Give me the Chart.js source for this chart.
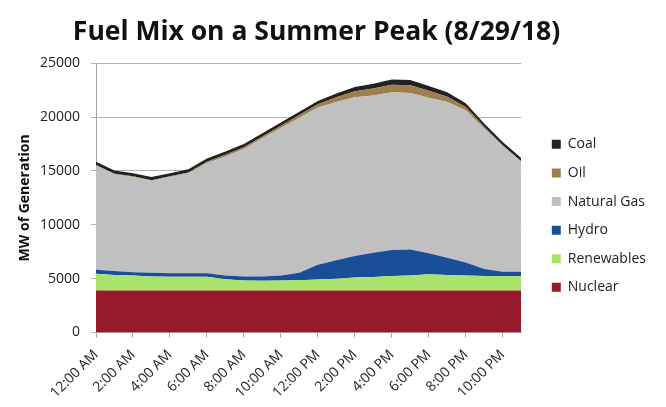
<!DOCTYPE html>
<html>
<head>
<meta charset="utf-8">
<script src="https://cdn.jsdelivr.net/npm/chart.js@4/dist/chart.umd.min.js"></script>
<style>
  html, body { margin: 0; padding: 0; background: #fff; }
  #wrap { width: 666px; height: 407px; position: relative; }
</style>
</head>
<body>
<div id="wrap"><canvas id="c" width="666" height="407"></canvas></div>
<script>
const hours = ["12:00 AM","1:00 AM","2:00 AM","3:00 AM","4:00 AM","5:00 AM","6:00 AM","7:00 AM","8:00 AM","9:00 AM","10:00 AM","11:00 AM",
               "12:00 PM","1:00 PM","2:00 PM","3:00 PM","4:00 PM","5:00 PM","6:00 PM","7:00 PM","8:00 PM","9:00 PM","10:00 PM","11:00 PM"];
const nuclear    = [3900,3900,3900,3900,3900,3900,3900,3900,3900,3900,3900,3900,3900,3900,3900,3900,3900,3900,3900,3900,3900,3900,3900,3900];
const renewables = [1550,1450,1400,1300,1270,1270,1270,1050,930,900,930,950,1020,1100,1200,1250,1350,1400,1500,1450,1400,1350,1350,1350];
const hydro      = [370,350,300,340,330,330,330,350,370,400,470,700,1380,1700,2000,2250,2400,2400,1950,1600,1200,650,400,400];
const naturalGas = [9680,9000,8850,8560,8950,9300,10250,11050,11850,12850,13700,14400,14600,14700,14750,14600,14650,14550,14450,14450,14150,13050,11650,10200];
const oil        = [50,50,50,50,50,50,100,150,150,150,200,250,300,450,550,650,700,700,650,500,300,150,100,50];
const coal       = [300,300,300,300,300,300,300,300,300,300,300,300,300,350,400,450,500,500,450,400,350,300,300,300];
const yTicks = [0,5000,10000,15000,20000,25000];

const FONT = "'Open Sans', 'Noto Sans', sans-serif";
function ds(label, data, color, fill) {
  return { label, data, backgroundColor: color, borderColor: color, borderWidth: 0,
           pointRadius: 0, pointHoverRadius: 0, fill, tension: 0 };
}

// nudge the title and legend boxes horizontally after layout
const nudge = {
  id: 'nudge',
  afterLayout(chart) {
    const lg = chart.legend;
    if (lg) { lg.left += 16; lg.right += 16; }
    const tb = chart.titleBlock;
    if (tb) { tb.left -= 12; tb.right -= 12; }
  }
};

new Chart(document.getElementById('c'), {
  type: 'line',
  plugins: [nudge],
  data: {
    labels: hours,
    datasets: [
      ds('Nuclear', nuclear, '#971a2b', 'origin'),
      ds('Renewables', renewables, '#a8e46b', '-1'),
      ds('Hydro', hydro, '#1b4e98', '-1'),
      ds('Natural Gas', naturalGas, '#c0c0c0', '-1'),
      ds('Oil', oil, '#9e7e4f', '-1'),
      ds('Coal', coal, '#222222', '-1')
    ]
  },
  options: {
    responsive: false,
    animation: false,
    layout: { autoPadding: false, padding: { left: 17, right: 26, top: 6, bottom: 2.5 } },
    plugins: {
      title: {
        display: true,
        text: 'Fuel Mix on a Summer Peak (8/29/18)',
        font: { family: FONT, size: 26.5, weight: 'bold' },
        color: '#111',
        padding: { top: 11, bottom: 14.5 }
      },
      legend: {
        position: 'right',
        reverse: true,
        title: { display: true, text: ' ', font: { size: 1 }, padding: { top: 10, bottom: 10 } },
        labels: {
          font: { family: FONT, size: 14 },
          color: '#222',
          boxWidth: 9,
          boxHeight: 9,
          padding: 14.6
        }
      },
      tooltip: { enabled: false }
    },
    scales: {
      x: {
        stacked: true,
        offset: false,
        afterFit: (s) => { s.height = 72; },
        grid: { drawOnChartArea: false, drawTicks: true, tickLength: 5, color: '#a6a6a6' },
        border: { color: '#a6a6a6' },
        ticks: {
          autoSkip: false,
          minRotation: 45,
          maxRotation: 45,
          font: { family: FONT, size: 14 },
          color: '#222',
          padding: 9,
          callback: function(v, i) { return i % 2 === 0 ? hours[i] : null; }
        }
      },
      y: {
        stacked: true,
        min: 0,
        max: 25000,
        afterFit: (s) => { s.width = 79; },
        afterBuildTicks: (s) => { s.ticks = yTicks.map(v => ({ value: v })); },
        grid: { color: '#b3b3b3', tickLength: 5 },
        border: { color: '#a6a6a6' },
        ticks: { font: { family: FONT, size: 14 }, color: '#222', padding: 11,
                 callback: (v) => String(v) },
        title: { display: true, text: 'MW of Generation', font: { family: FONT, size: 14, weight: 'bold' }, color: '#111', padding: { top: 0, bottom: 5 } }
      }
    }
  }
});
</script>
</body>
</html>
